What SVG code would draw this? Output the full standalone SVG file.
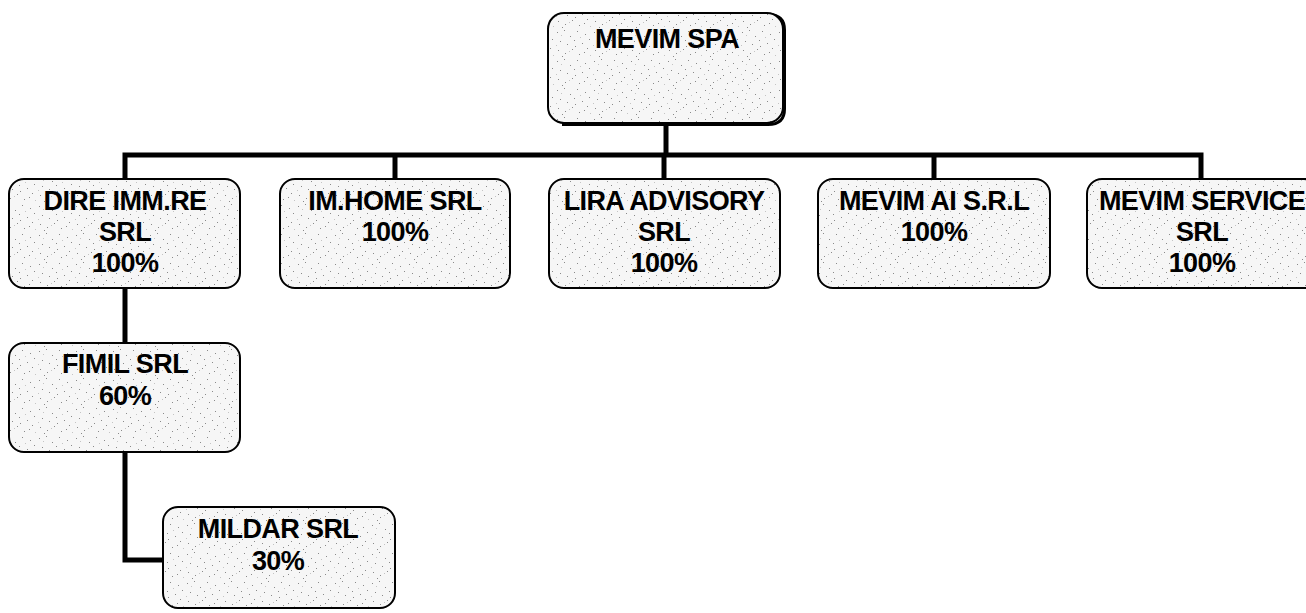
<svg xmlns="http://www.w3.org/2000/svg" width="1306" height="613" viewBox="0 0 1306 613">
  <defs>
    <pattern id="stip" width="37" height="29" patternUnits="userSpaceOnUse">
      <rect width="37" height="29" fill="#f6f6f6"/>
      <g fill="#8a8a8a">
        <rect x="2" y="3" width="1" height="1"/>
        <rect x="9" y="1" width="1" height="1"/>
        <rect x="15" y="7" width="1" height="1"/>
        <rect x="22" y="2" width="1" height="1"/>
        <rect x="30" y="5" width="1" height="1"/>
        <rect x="5" y="12" width="1" height="1"/>
        <rect x="12" y="15" width="1" height="1"/>
        <rect x="19" y="11" width="1" height="1"/>
        <rect x="27" y="14" width="1" height="1"/>
        <rect x="34" y="10" width="1" height="1"/>
        <rect x="3" y="21" width="1" height="1"/>
        <rect x="10" y="24" width="1" height="1"/>
        <rect x="17" y="20" width="1" height="1"/>
        <rect x="24" y="25" width="1" height="1"/>
        <rect x="32" y="19" width="1" height="1"/>
        <rect x="7" y="27" width="1" height="1"/>
        <rect x="29" y="23" width="1" height="1"/>
        <rect x="20" y="17" width="1" height="1"/>
      </g>
      <g fill="#c4c4c4">
        <rect x="6" y="6" width="1" height="1"/>
        <rect x="25" y="8" width="1" height="1"/>
        <rect x="14" y="22" width="1" height="1"/>
        <rect x="35" y="26" width="1" height="1"/>
        <rect x="1" y="16" width="1" height="1"/>
      </g>
    </pattern>
  </defs>
  <style>
    .box { fill: url(#stip); stroke: #000; stroke-width: 2; }
    .shadow { fill: none; stroke: #000; stroke-width: 3; }
    .conn { fill: none; stroke: #000; stroke-width: 5; stroke-linejoin: miter; }
    .t { font-family: "Liberation Sans", Arial, sans-serif; font-weight: bold; font-size: 27px; fill: #000; text-anchor: middle; letter-spacing: -0.6px; }
  </style>
  <rect width="1306" height="613" fill="#fff"/>

  <g id="connectors">
    <path class="conn" d="M666 123 V155"/>
    <path class="conn" d="M125 179 V155 H1201 V179"/>
    <path class="conn" d="M395 155 V179"/>
    <path class="conn" d="M664 155 V179"/>
    <path class="conn" d="M934 155 V179"/>
    <path class="conn" d="M125 288 V343"/>
    <path class="conn" d="M125 452 V560 H163"/>
  </g>

  <g id="node-mevim-spa">
    <path class="shadow" d="M768 14.5 Q784.5 14.5 784.5 30 V109 Q784.5 124.5 768 124.5 H562"/>
    <rect class="box" x="548" y="13" width="235" height="110" rx="16"/>
    <text class="t" x="667" y="48">MEVIM SPA</text>
  </g>

  <g id="node-dire">
    <rect class="box" x="9" y="179" width="231" height="109" rx="15"/>
    <text class="t" x="125" y="210">DIRE IMM.RE</text>
    <text class="t" x="125" y="241">SRL</text>
    <text class="t" x="125" y="272">100%</text>
  </g>

  <g id="node-imhome">
    <rect class="box" x="280" y="179" width="230" height="109" rx="15"/>
    <text class="t" x="395" y="210">IM.HOME SRL</text>
    <text class="t" x="395" y="241">100%</text>
  </g>

  <g id="node-lira">
    <rect class="box" x="549" y="179" width="231" height="109" rx="15"/>
    <text class="t" x="664" y="210">LIRA ADVISORY</text>
    <text class="t" x="664" y="241">SRL</text>
    <text class="t" x="664" y="272">100%</text>
  </g>

  <g id="node-mevim-ai">
    <rect class="box" x="818" y="179" width="232" height="109" rx="15"/>
    <text class="t" x="934" y="210">MEVIM AI S.R.L</text>
    <text class="t" x="934" y="241">100%</text>
  </g>

  <g id="node-mevim-service">
    <rect class="box" x="1087" y="179" width="232" height="109" rx="15"/>
    <text class="t" x="1202" y="210">MEVIM SERVICE</text>
    <text class="t" x="1202" y="241">SRL</text>
    <text class="t" x="1202" y="272">100%</text>
  </g>

  <g id="node-fimil">
    <rect class="box" x="9" y="343" width="231" height="109" rx="15"/>
    <text class="t" x="125" y="373">FIMIL SRL</text>
    <text class="t" x="125" y="405">60%</text>
  </g>

  <g id="node-mildar">
    <rect class="box" x="163" y="507" width="232" height="101" rx="15"/>
    <text class="t" x="278" y="538">MILDAR SRL</text>
    <text class="t" x="278" y="570">30%</text>
  </g>
</svg>
